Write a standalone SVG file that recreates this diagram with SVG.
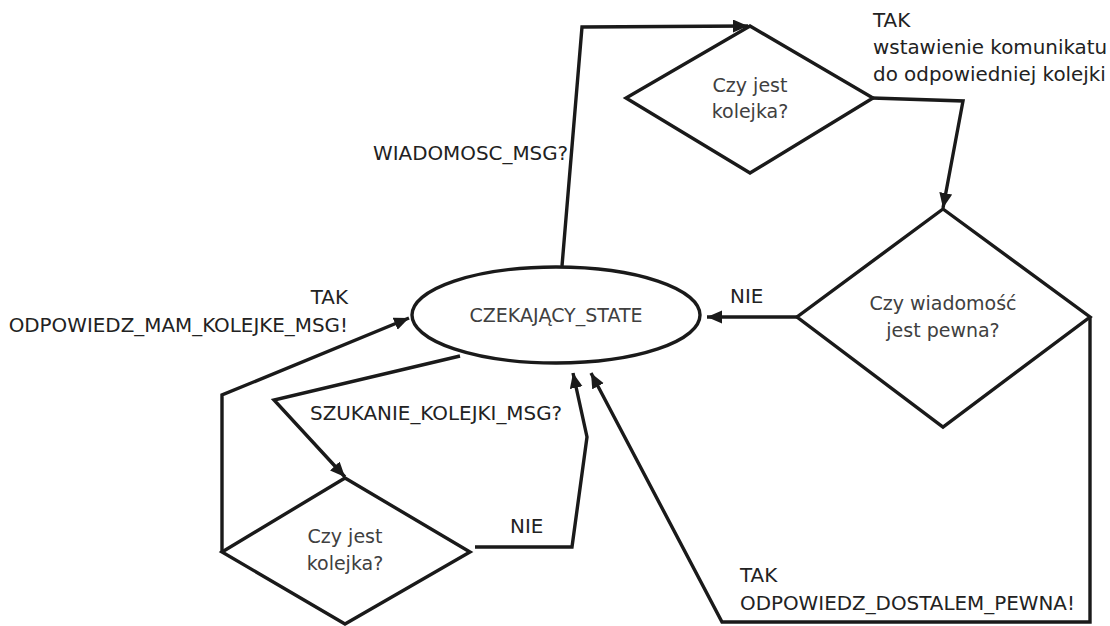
<svg xmlns="http://www.w3.org/2000/svg" width="1110" height="626" viewBox="0 0 1110 626">
  <defs>
    <marker id="arr" markerUnits="userSpaceOnUse" markerWidth="16" markerHeight="14" refX="15" refY="6.5" orient="auto">
      <path d="M0,0 L15,6.5 L0,13 z" fill="#1a1a1a"/>
    </marker>
    <style>
      .shape { fill: #ffffff; stroke: #1a1a1a; stroke-width: 3.4; stroke-linejoin: miter; }
      .conn { fill: none; stroke: #1a1a1a; stroke-width: 3.4; stroke-linejoin: miter; marker-end: url(#arr); }
      .ntext { font-family: "DejaVu Sans", "Liberation Sans", sans-serif; font-size: 19px; fill: #404040; text-anchor: middle; }
      .lbl { font-family: "DejaVu Sans", "Liberation Sans", sans-serif; font-size: 19.9px; fill: #222222; }
    </style>
  </defs>
  <rect width="1110" height="626" fill="#ffffff"/>

  <g id="connectors">
    <polyline class="conn" points="562,266 582,27 748,26"/>
    <polyline class="conn" points="872,98 963,101 943,208"/>
    <polyline class="conn" points="797,317 707,317"/>
    <polyline class="conn" points="1090,317 1090,622 722,622 591,373"/>
    <polyline class="conn" points="460,356 274,400 345,477"/>
    <polyline class="conn" points="475,547 572,547 587,437 573,373"/>
    <polyline class="conn" points="222,552 222,395 409,318"/>
  </g>

  <g id="labels">
    <text class="lbl" x="873" y="27">TAK</text>
    <text class="lbl" x="873" y="54">wstawienie komunikatu</text>
    <text class="lbl" x="873" y="81">do odpowiedniej kolejki</text>
    <text class="lbl" x="373" y="160">WIADOMOSC_MSG?</text>
    <text class="lbl" x="348" y="304" text-anchor="end">TAK</text>
    <text class="lbl" x="348" y="332" text-anchor="end">ODPOWIEDZ_MAM_KOLEJKE_MSG!</text>
    <text class="lbl" x="310" y="420">SZUKANIE_KOLEJKI_MSG?</text>
    <text class="lbl" x="730" y="303">NIE</text>
    <text class="lbl" x="510" y="533">NIE</text>
    <text class="lbl" x="740" y="582">TAK</text>
    <text class="lbl" x="740" y="610">ODPOWIEDZ_DOSTALEM_PEWNA!</text>
  </g>

  <g id="state-czekajacy">
    <ellipse class="shape" cx="556" cy="315" rx="144" ry="48"/>
    <text class="ntext" x="556" y="322">CZEKAJĄCY_STATE</text>
  </g>

  <g id="decision-kolejka-top">
    <polygon class="shape" points="750,26 873,98 750,173 626,98"/>
    <text class="ntext" x="750" y="92">Czy jest</text>
    <text class="ntext" x="750" y="118">kolejka?</text>
  </g>

  <g id="decision-pewna">
    <polygon class="shape" points="943,209 1090,317 943,427 797,317"/>
    <text class="ntext" x="943" y="310">Czy wiadomość</text>
    <text class="ntext" x="943" y="337">jest pewna?</text>
  </g>

  <g id="decision-kolejka-bottom">
    <polygon class="shape" points="345,478 470,552 345,624 222,552"/>
    <text class="ntext" x="345" y="543">Czy jest</text>
    <text class="ntext" x="345" y="570">kolejka?</text>
  </g>
</svg>
